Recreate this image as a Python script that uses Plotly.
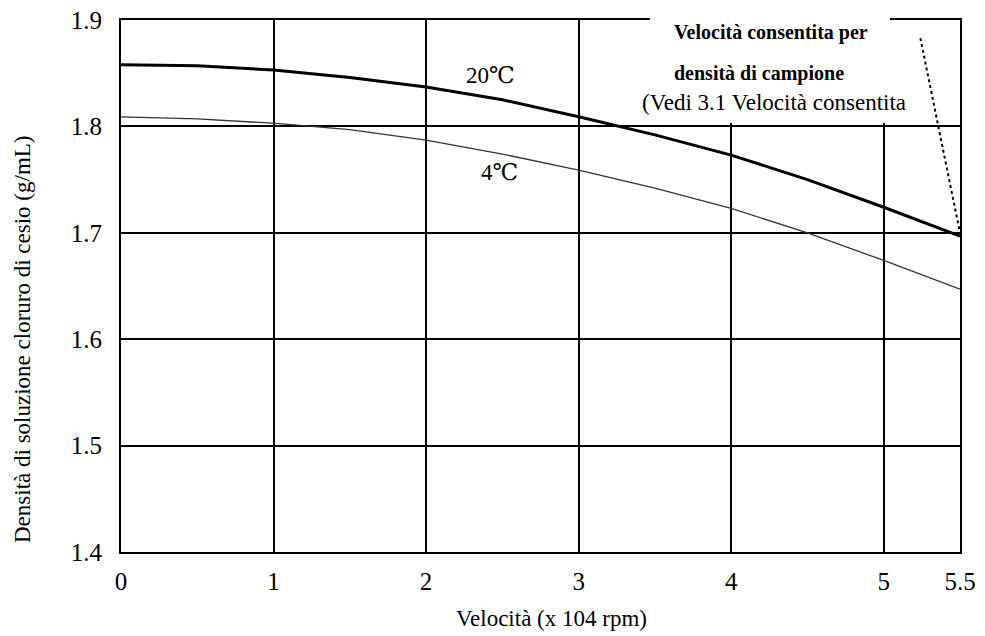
import plotly.graph_objects as go

# Data
speed = [0, 0.5, 1, 1.5, 2, 2.5, 3, 3.5, 4, 4.5, 5, 5.5]
density_20c = [1.858, 1.857, 1.853, 1.846, 1.837, 1.825, 1.809, 1.792, 1.773, 1.750, 1.724, 1.697]
density_4c = [1.809, 1.807, 1.803, 1.797, 1.787, 1.774, 1.759, 1.742, 1.723, 1.700, 1.674, 1.647]
limit_x = [5.24, 5.5]
limit_y = [1.883, 1.700]
x_ticks = [0, 1, 2, 3, 4, 5, 5.5]
x_tick_text = ["0", "1", "2", "3", "4", "5", "5.5"]
y_ticks = [1.4, 1.5, 1.6, 1.7, 1.8, 1.9]
y_tick_text = ["1.4", "1.5", "1.6", "1.7", "1.8", "1.9"]

# page body has an 8px margin: figure is drawn offset by 8px
OFF = 8
W, H = 985 - OFF, 636 - OFF
PLOT_L, PLOT_R, PLOT_T, PLOT_B = 121, 960, 20, 552   # window pixels
PW, PH = PLOT_R - PLOT_L, PLOT_B - PLOT_T


def px(x):
    return (x - PLOT_L) / PW


def py(y):
    return (PLOT_B - y) / PH


SERIF = "Liberation Serif, DejaVu Serif, serif"
TICKFONT = dict(family=SERIF, size=25, color="black")
TEXTFONT = dict(family=SERIF, size=23, color="black")

fig = go.Figure()
fig.add_trace(go.Scatter(x=speed, y=density_4c, mode="lines",
                         line=dict(color="#333333", width=1.3), showlegend=False))
fig.add_trace(go.Scatter(x=speed, y=density_20c, mode="lines",
                         line=dict(color="black", width=3), showlegend=False))
fig.add_trace(go.Scatter(x=limit_x, y=limit_y, mode="lines",
                         line=dict(color="black", width=2, dash="dot"), showlegend=False))

fig.update_layout(
    width=W, height=H,
    margin=dict(l=PLOT_L - OFF, r=W + OFF - PLOT_R, t=PLOT_T - OFF, b=H + OFF - PLOT_B, pad=0),
    paper_bgcolor="white", plot_bgcolor="white",
    xaxis=dict(range=[0, 5.5], tickvals=x_ticks, ticktext=x_tick_text,
               showgrid=True, gridcolor="black", gridwidth=2,
               showline=True, linecolor="black", linewidth=2, mirror=True,
               ticks="", tickfont=TICKFONT, ticklabelstandoff=6, zeroline=False,
               automargin=False, ticklabeloverflow="allow"),
    yaxis=dict(range=[1.4, 1.9], tickvals=y_ticks, ticktext=y_tick_text,
               showgrid=True, gridcolor="black", gridwidth=2,
               showline=True, linecolor="black", linewidth=2, mirror=True,
               ticks="", tickfont=TICKFONT, ticklabelstandoff=12, zeroline=False,
               automargin=False, ticklabeloverflow="allow"),
)

# axis titles
fig.add_annotation(xref="paper", yref="paper", x=px(551), y=py(618),
                   xanchor="center", yanchor="middle",
                   text="Velocità (x 104 rpm)", showarrow=False, font=TEXTFONT)
fig.add_annotation(xref="paper", yref="paper", x=px(22), y=py(339), textangle=-90,
                   xanchor="center", yanchor="middle",
                   text="Densità di soluzione cloruro di cesio (g/mL)", showarrow=False, font=TEXTFONT)

# white box behind the note (breaks the top border and grid)
fig.add_shape(type="rect", xref="paper", yref="paper",
              x0=px(650), x1=px(890), y0=py(123), y1=py(8),
              fillcolor="white", line=dict(width=0), layer="above")

fig.add_annotation(x=2.42, y=1.848, text="20℃", showarrow=False,
                   xanchor="center", yanchor="middle",
                   font=dict(family=SERIF, size=23, color="black"))
fig.add_annotation(x=2.48, y=1.757, text="4℃", showarrow=False,
                   xanchor="center", yanchor="middle",
                   font=dict(family=SERIF, size=23, color="black"))

fig.add_annotation(xref="paper", yref="paper", x=px(672), y=py(32),
                   xanchor="left", yanchor="middle",
                   text="<b>Velocità consentita per</b>", showarrow=False,
                   font=dict(family=SERIF, size=20, color="black"))
fig.add_annotation(xref="paper", yref="paper", x=px(672), y=py(73),
                   xanchor="left", yanchor="middle",
                   text="<b>densità di campione</b>", showarrow=False,
                   font=dict(family=SERIF, size=20, color="black"))
fig.add_annotation(xref="paper", yref="paper", x=px(640), y=py(103),
                   xanchor="left", yanchor="middle",
                   text="(Vedi 3.1 Velocità consentita", showarrow=False,
                   font=dict(family=SERIF, size=23, color="black"))

fig.write_html("out.html")
